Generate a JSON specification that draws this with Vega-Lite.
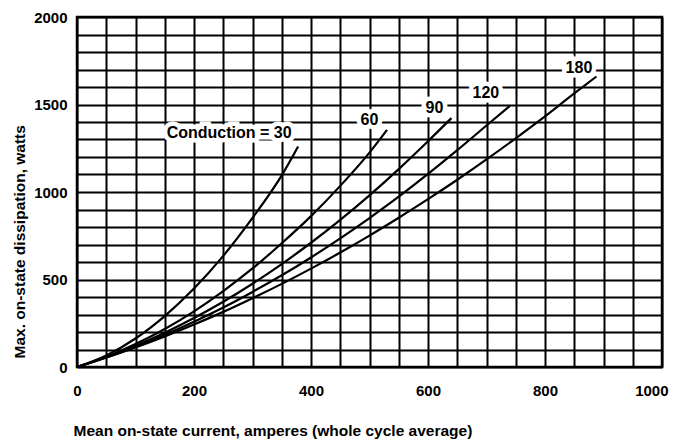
{
  "$schema": "https://vega.github.io/schema/vega-lite/v6.json",
  "width": 585,
  "height": 350,
  "autosize": {"type": "none"},
  "padding": {"left": 77, "top": 17, "right": 27, "bottom": 78},
  "background": "white",
  "config": {
    "view": {"stroke": "black", "strokeWidth": 2.5},
    "font": "Liberation Sans"
  },
  "datasets": {
    "curves": [
      {"conduction": "30", "current": 0, "watts": 0},
      {"conduction": "30", "current": 50, "watts": 66},
      {"conduction": "30", "current": 100, "watts": 163},
      {"conduction": "30", "current": 150, "watts": 291},
      {"conduction": "30", "current": 200, "watts": 448},
      {"conduction": "30", "current": 250, "watts": 635},
      {"conduction": "30", "current": 300, "watts": 852},
      {"conduction": "30", "current": 350, "watts": 1095},
      {"conduction": "30", "current": 378, "watts": 1260},
      {"conduction": "60", "current": 0, "watts": 0},
      {"conduction": "60", "current": 50, "watts": 58},
      {"conduction": "60", "current": 100, "watts": 131},
      {"conduction": "60", "current": 150, "watts": 217},
      {"conduction": "60", "current": 200, "watts": 318},
      {"conduction": "60", "current": 250, "watts": 434},
      {"conduction": "60", "current": 300, "watts": 563},
      {"conduction": "60", "current": 350, "watts": 707},
      {"conduction": "60", "current": 400, "watts": 862},
      {"conduction": "60", "current": 450, "watts": 1035},
      {"conduction": "60", "current": 500, "watts": 1225},
      {"conduction": "60", "current": 530, "watts": 1355},
      {"conduction": "90", "current": 0, "watts": 0},
      {"conduction": "90", "current": 50, "watts": 56},
      {"conduction": "90", "current": 100, "watts": 121},
      {"conduction": "90", "current": 150, "watts": 196},
      {"conduction": "90", "current": 200, "watts": 280},
      {"conduction": "90", "current": 250, "watts": 373},
      {"conduction": "90", "current": 300, "watts": 476},
      {"conduction": "90", "current": 350, "watts": 588},
      {"conduction": "90", "current": 400, "watts": 710},
      {"conduction": "90", "current": 450, "watts": 841},
      {"conduction": "90", "current": 500, "watts": 981},
      {"conduction": "90", "current": 550, "watts": 1131},
      {"conduction": "90", "current": 600, "watts": 1290},
      {"conduction": "90", "current": 640, "watts": 1422},
      {"conduction": "120", "current": 0, "watts": 0},
      {"conduction": "120", "current": 50, "watts": 54},
      {"conduction": "120", "current": 100, "watts": 116},
      {"conduction": "120", "current": 150, "watts": 184},
      {"conduction": "120", "current": 200, "watts": 259},
      {"conduction": "120", "current": 250, "watts": 340},
      {"conduction": "120", "current": 300, "watts": 429},
      {"conduction": "120", "current": 350, "watts": 524},
      {"conduction": "120", "current": 400, "watts": 626},
      {"conduction": "120", "current": 450, "watts": 735},
      {"conduction": "120", "current": 500, "watts": 851},
      {"conduction": "120", "current": 550, "watts": 973},
      {"conduction": "120", "current": 600, "watts": 1103},
      {"conduction": "120", "current": 650, "watts": 1239},
      {"conduction": "120", "current": 700, "watts": 1380},
      {"conduction": "120", "current": 740, "watts": 1492},
      {"conduction": "180", "current": 0, "watts": 0},
      {"conduction": "180", "current": 50, "watts": 54},
      {"conduction": "180", "current": 100, "watts": 112},
      {"conduction": "180", "current": 150, "watts": 175},
      {"conduction": "180", "current": 200, "watts": 243},
      {"conduction": "180", "current": 250, "watts": 315},
      {"conduction": "180", "current": 300, "watts": 393},
      {"conduction": "180", "current": 350, "watts": 475},
      {"conduction": "180", "current": 400, "watts": 562},
      {"conduction": "180", "current": 450, "watts": 654},
      {"conduction": "180", "current": 500, "watts": 751},
      {"conduction": "180", "current": 550, "watts": 853},
      {"conduction": "180", "current": 600, "watts": 959},
      {"conduction": "180", "current": 650, "watts": 1070},
      {"conduction": "180", "current": 700, "watts": 1186},
      {"conduction": "180", "current": 750, "watts": 1307},
      {"conduction": "180", "current": 800, "watts": 1432},
      {"conduction": "180", "current": 850, "watts": 1563},
      {"conduction": "180", "current": 888, "watts": 1660}
    ],
    "labels": [
      {"label": "Conduction = 30", "current": 260, "watts": 1338},
      {"label": "60", "current": 500, "watts": 1411},
      {"label": "90", "current": 611, "watts": 1479},
      {"label": "120", "current": 699, "watts": 1564},
      {"label": "180", "current": 858, "watts": 1707}
    ]
  },
  "encoding": {
    "x": {
      "field": "current",
      "type": "quantitative",
      "scale": {"domain": [0, 1000], "nice": false, "zero": true},
      "axis": {
        "title": "Mean on-state current, amperes (whole cycle average)",
        "values": [0, 50, 100, 150, 200, 250, 300, 350, 400, 450, 500, 550, 600, 650, 700, 750, 800, 850, 900, 950, 1000],
        "labelExpr": "datum.value % 200 == 0 ? datum.label : ''",
        "format": "d",
        "grid": true,
        "gridColor": "black",
        "gridWidth": 2,
        "gridOpacity": 1,
        "domain": false,
        "ticks": false,
        "labelPadding": 16,
        "labelFontSize": 15,
        "labelFontWeight": "bold",
        "labelColor": "black",
        "labelAlign": {"condition": {"test": "datum.value == 1000", "value": "right"}, "value": "center"},
        "labelOffset": {"condition": {"test": "datum.value == 1000", "value": 6}, "value": 0},
        "labelFlush": false,
        "labelBound": false,
        "titleFontSize": 15.5,
        "titleFontWeight": "bold",
        "titleColor": "black",
        "titleAlign": "left",
        "titleBaseline": "middle",
        "titleX": -4,
        "titleY": 63
      }
    },
    "y": {
      "field": "watts",
      "type": "quantitative",
      "scale": {"domain": [0, 2000], "nice": false},
      "axis": {
        "title": "Max. on-state dissipation, watts",
        "values": [0, 100, 200, 300, 400, 500, 600, 700, 800, 900, 1000, 1100, 1200, 1300, 1400, 1500, 1600, 1700, 1800, 1900, 2000],
        "labelExpr": "datum.value % 500 == 0 ? datum.label : ''",
        "format": "d",
        "grid": true,
        "gridColor": "black",
        "gridWidth": 2,
        "gridOpacity": 1,
        "domain": false,
        "ticks": false,
        "labelPadding": 10,
        "labelFontSize": 15,
        "labelFontWeight": "bold",
        "labelColor": "black",
        "labelFlush": false,
        "labelBound": false,
        "titleFontSize": 15.5,
        "titleFontWeight": "bold",
        "titleColor": "black",
        "titleAngle": -90,
        "titleAlign": "left",
        "titleBaseline": "middle",
        "titleX": -58,
        "titleY": 341
      }
    }
  },
  "layer": [
    {
      "data": {"name": "curves"},
      "mark": {"type": "line", "color": "black", "strokeWidth": 2.2, "interpolate": "monotone"},
      "encoding": {"detail": {"field": "conduction"}}
    },
    {
      "data": {"name": "labels"},
      "mark": {"type": "text", "fontSize": 16, "fontWeight": "bold", "stroke": "white", "strokeWidth": 9, "fill": "white", "align": "center", "baseline": "middle"},
      "encoding": {"text": {"field": "label"}}
    },
    {
      "data": {"name": "labels"},
      "mark": {"type": "text", "fontSize": 16, "fontWeight": "bold", "color": "black", "align": "center", "baseline": "middle"},
      "encoding": {"text": {"field": "label"}}
    }
  ]
}
